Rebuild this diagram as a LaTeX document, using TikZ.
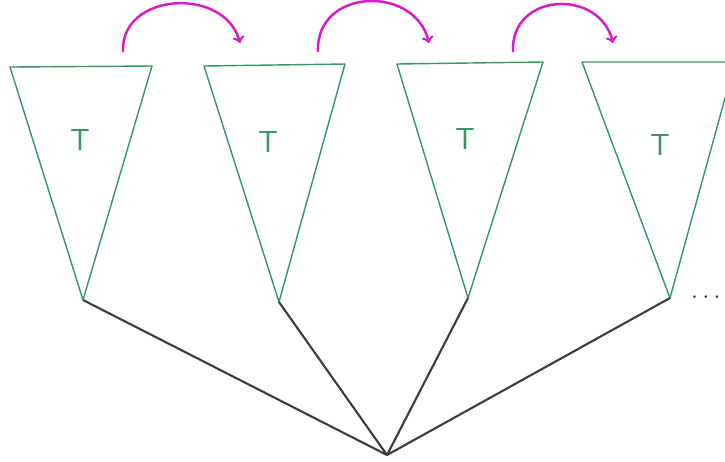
\documentclass[tikz,border=0pt]{standalone}
\usepackage{tikz}
\usetikzlibrary{arrows, positioning}

\definecolor{treegreen}{RGB}{52,150,100}
\definecolor{hopmagenta}{RGB}{215,25,200}
\definecolor{edgegray}{RGB}{60,60,60}

\begin{document}
\begin{tikzpicture}[
    x=0.02cm, y=-0.02cm,
    subtree/.style={draw=treegreen, line width=0.8pt, line join=round},
    label/.style={text=treegreen, font=\sffamily\LARGE},
    edge/.style={draw=edgegray, line width=1.2pt},
    hop/.style={->, draw=hopmagenta, line width=1.4pt}
]
\clip (0,0) rectangle (725,461);

\coordinate (root) at (387,455);

% subtrees
\coordinate (b1) at (83,300);
\coordinate (b2) at (279,302);
\coordinate (b3) at (468,298);
\coordinate (b4) at (670,298);
\draw[subtree] (10,67) -- (152,66) -- (b1) -- cycle;
\draw[subtree] (204,66) -- (345,64) -- (b2) -- cycle;
\draw[subtree] (397,64) -- (543,62) -- (b3) -- cycle;
\draw[subtree] (582,62) -- (735,62) -- (b4) -- cycle;

\node[label] (t1) at (80,140) {T};
\node[label] (t2) at (268,142) {T};
\node[label] (t3) at (465,139) {T};
\node[label] (t4) at (660,145) {T};

% edges to the root
\draw[edge] (root) -- (b1);
\draw[edge] (root) -- (b2);
\draw[edge] (root) -- (b3);
\draw[edge] (root) -- (b4);

\node[text=edgegray, font=\Large] (dots) at (706,298) {$\cdots$};

% moves between subtrees
\coordinate (s1) at (123,52);
\coordinate (e1) at (240,43);
\coordinate (s2) at (318,52);
\coordinate (e2) at (429,43);
\coordinate (s3) at (513,52);
\coordinate (e3) at (613,43);
\draw[hop] (s1) .. controls (120,-8) and (225,-14) .. (e1);
\draw[hop] (s2) .. controls (315,-12) and (415,-16) .. (e2);
\draw[hop] (s3) .. controls (510,-8) and (600,-12) .. (e3);
\end{tikzpicture}
\end{document}
